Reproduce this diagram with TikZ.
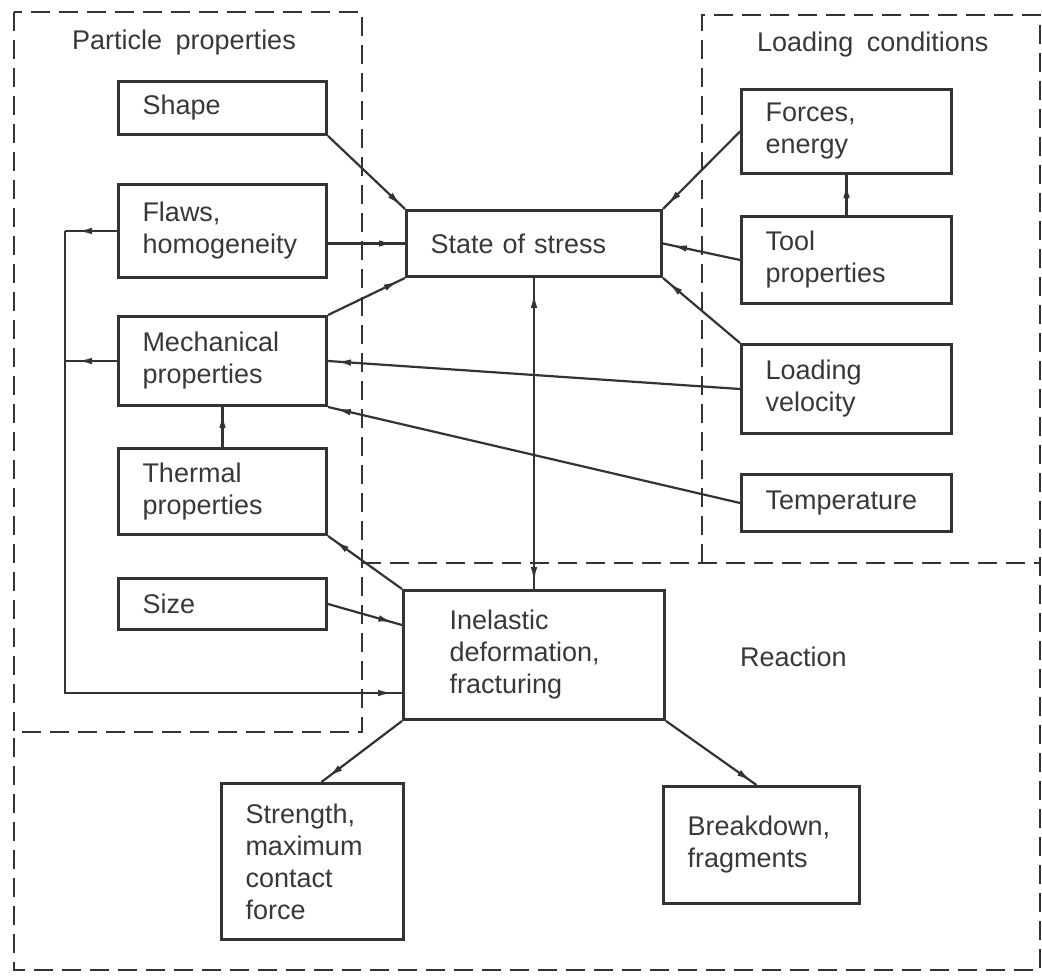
\documentclass[tikz,border=0pt]{standalone}
\usepackage{fontspec}
\setmainfont{Liberation Sans}
\usetikzlibrary{arrows.meta,decorations.markings,calc}
\definecolor{ink}{HTML}{333333}
\definecolor{txt}{HTML}{383838}
\newcommand\diagfont{\fontsize{27}{32}\selectfont\setlength{\spaceskip}{0.5em plus 0.1em}}
\begin{document}
\begin{tikzpicture}[x=1pt,y=-1pt,
  every node/.style={text=txt},
  fnt/.style={font=\diagfont},
  box/.style={fnt, draw=ink, line width=3pt, align=left, anchor=north west, inner xsep=24pt, inner ysep=0pt},
  lbl/.style={fnt, anchor=base west, inner sep=0pt},
  con/.style={draw=ink, line width=2.2pt},
  region/.style={draw=ink, line width=2.6pt, dash pattern=on 19pt off 9pt},
  tipat/.style={postaction={decorate, decoration={markings, mark=at position #1 with {\arrow{Latex[length=15pt,width=6.5pt]}}}}},
  bothat/.style 2 args={postaction={decorate, decoration={markings,
      mark=at position #1 with {\arrowreversed{Latex[length=15pt,width=6.5pt]}},
      mark=at position #2 with {\arrow{Latex[length=15pt,width=6.5pt]}}}}}
]
\useasboundingbox (0,0) rectangle (1042,979);

% regions
\draw[region] (14,12) rectangle (362,732);
\draw[region] (362,563) -- (1040,563) -- (1040,970) -- (14,970) -- (14,732);
\draw[region] (702,563) -- (702,15) -- (1040,15) -- (1040,563);

\node[lbl] (lpp) at (72,50) {Particle properties};
\node[lbl] (llc) at (757,52) {Loading conditions};
\node[lbl] (lre) at (740,666) {Reaction};

% particle properties
\node[box, text width=160pt, minimum height=53pt] (shape) at (117,80) {Shape};
\node[box, text width=160pt, minimum height=93pt] (flaws) at (117,183) {Flaws,\\homogeneity};
\node[box, text width=160pt, minimum height=89pt] (mech) at (117,315) {Mechanical\\properties};
\node[box, text width=160pt, minimum height=86pt] (therm) at (117,447) {Thermal\\properties};
\node[box, text width=160pt, minimum height=51pt] (size) at (117,577) {Size};

% centre
\node[box, text width=207pt, minimum height=66pt] (sos) at (405,209) {State of stress};
\node[box, inner xsep=46pt, text width=169pt, minimum height=129pt] (inel) at (402,589) {Inelastic\\deformation,\\fracturing};

% loading conditions
\node[box, text width=162pt, minimum height=84pt] (forces) at (740,88) {Forces,\\energy};
\node[box, text width=162pt, minimum height=87pt] (tool) at (740,215) {Tool\\properties};
\node[box, text width=162pt, minimum height=89pt] (lvel) at (740,343) {Loading\\velocity};
\node[box, text width=162pt, minimum height=57pt] (temp) at (740,473) {Temperature};

% reaction
\node[box, text width=134pt, minimum height=156pt] (str) at (220,782) {Strength,\\maximum\\contact\\force};
\node[box, text width=148pt, minimum height=117pt] (brk) at (662,785) {Breakdown,\\fragments};

% connectors
\draw[con, tipat=-5pt] (shape.south east) -- (sos.north west);
\draw[con, tipat=-11pt] (sos.west -| flaws.east) -- (sos.west);
\draw[con, tipat=-7pt] (mech.north east) -- (sos.south west);
\draw[con, tipat=-6pt] (forces.west) -- (sos.north east);
\draw[con, tipat=-9pt] (tool.west) -- (sos.east);
\draw[con, tipat=-7pt] (lvel.north west) -- (sos.south east);
\draw[con, tipat=-8pt] (tool.north) -- (forces.south);
\draw[con, tipat=-8pt] (lvel.west) -- (mech.east);
\draw[con, tipat=-8pt] (temp.west) -- (mech.south east);
\draw[con, tipat=-6pt] (therm.north) -- (mech.south);
\draw[con, bothat={15pt}{-7pt}] (sos.south) -- (inel.north);
\draw[con, tipat=-8pt] (inel.north west) -- (therm.south east);
\draw[con, tipat=-9pt] (size.east) -- ($(inel.north west)+(0,36)$);

\coordinate (jl) at (65,693);
\draw[con, tipat=-12pt] (flaws.west) -- (flaws.west -| jl);
\draw[con, tipat=-12pt] (mech.west) -- (mech.west -| jl);
\draw[con, tipat=-9pt] (flaws.west -| jl) -- (jl) -- (jl -| inel.west);

\draw[con, tipat=-8pt] (inel.south west) -- ($(str.north)+(9,0)$);
\draw[con, tipat=-6pt] (inel.south east) -- ($(brk.north)+(-5,0)$);
\end{tikzpicture}
\end{document}
